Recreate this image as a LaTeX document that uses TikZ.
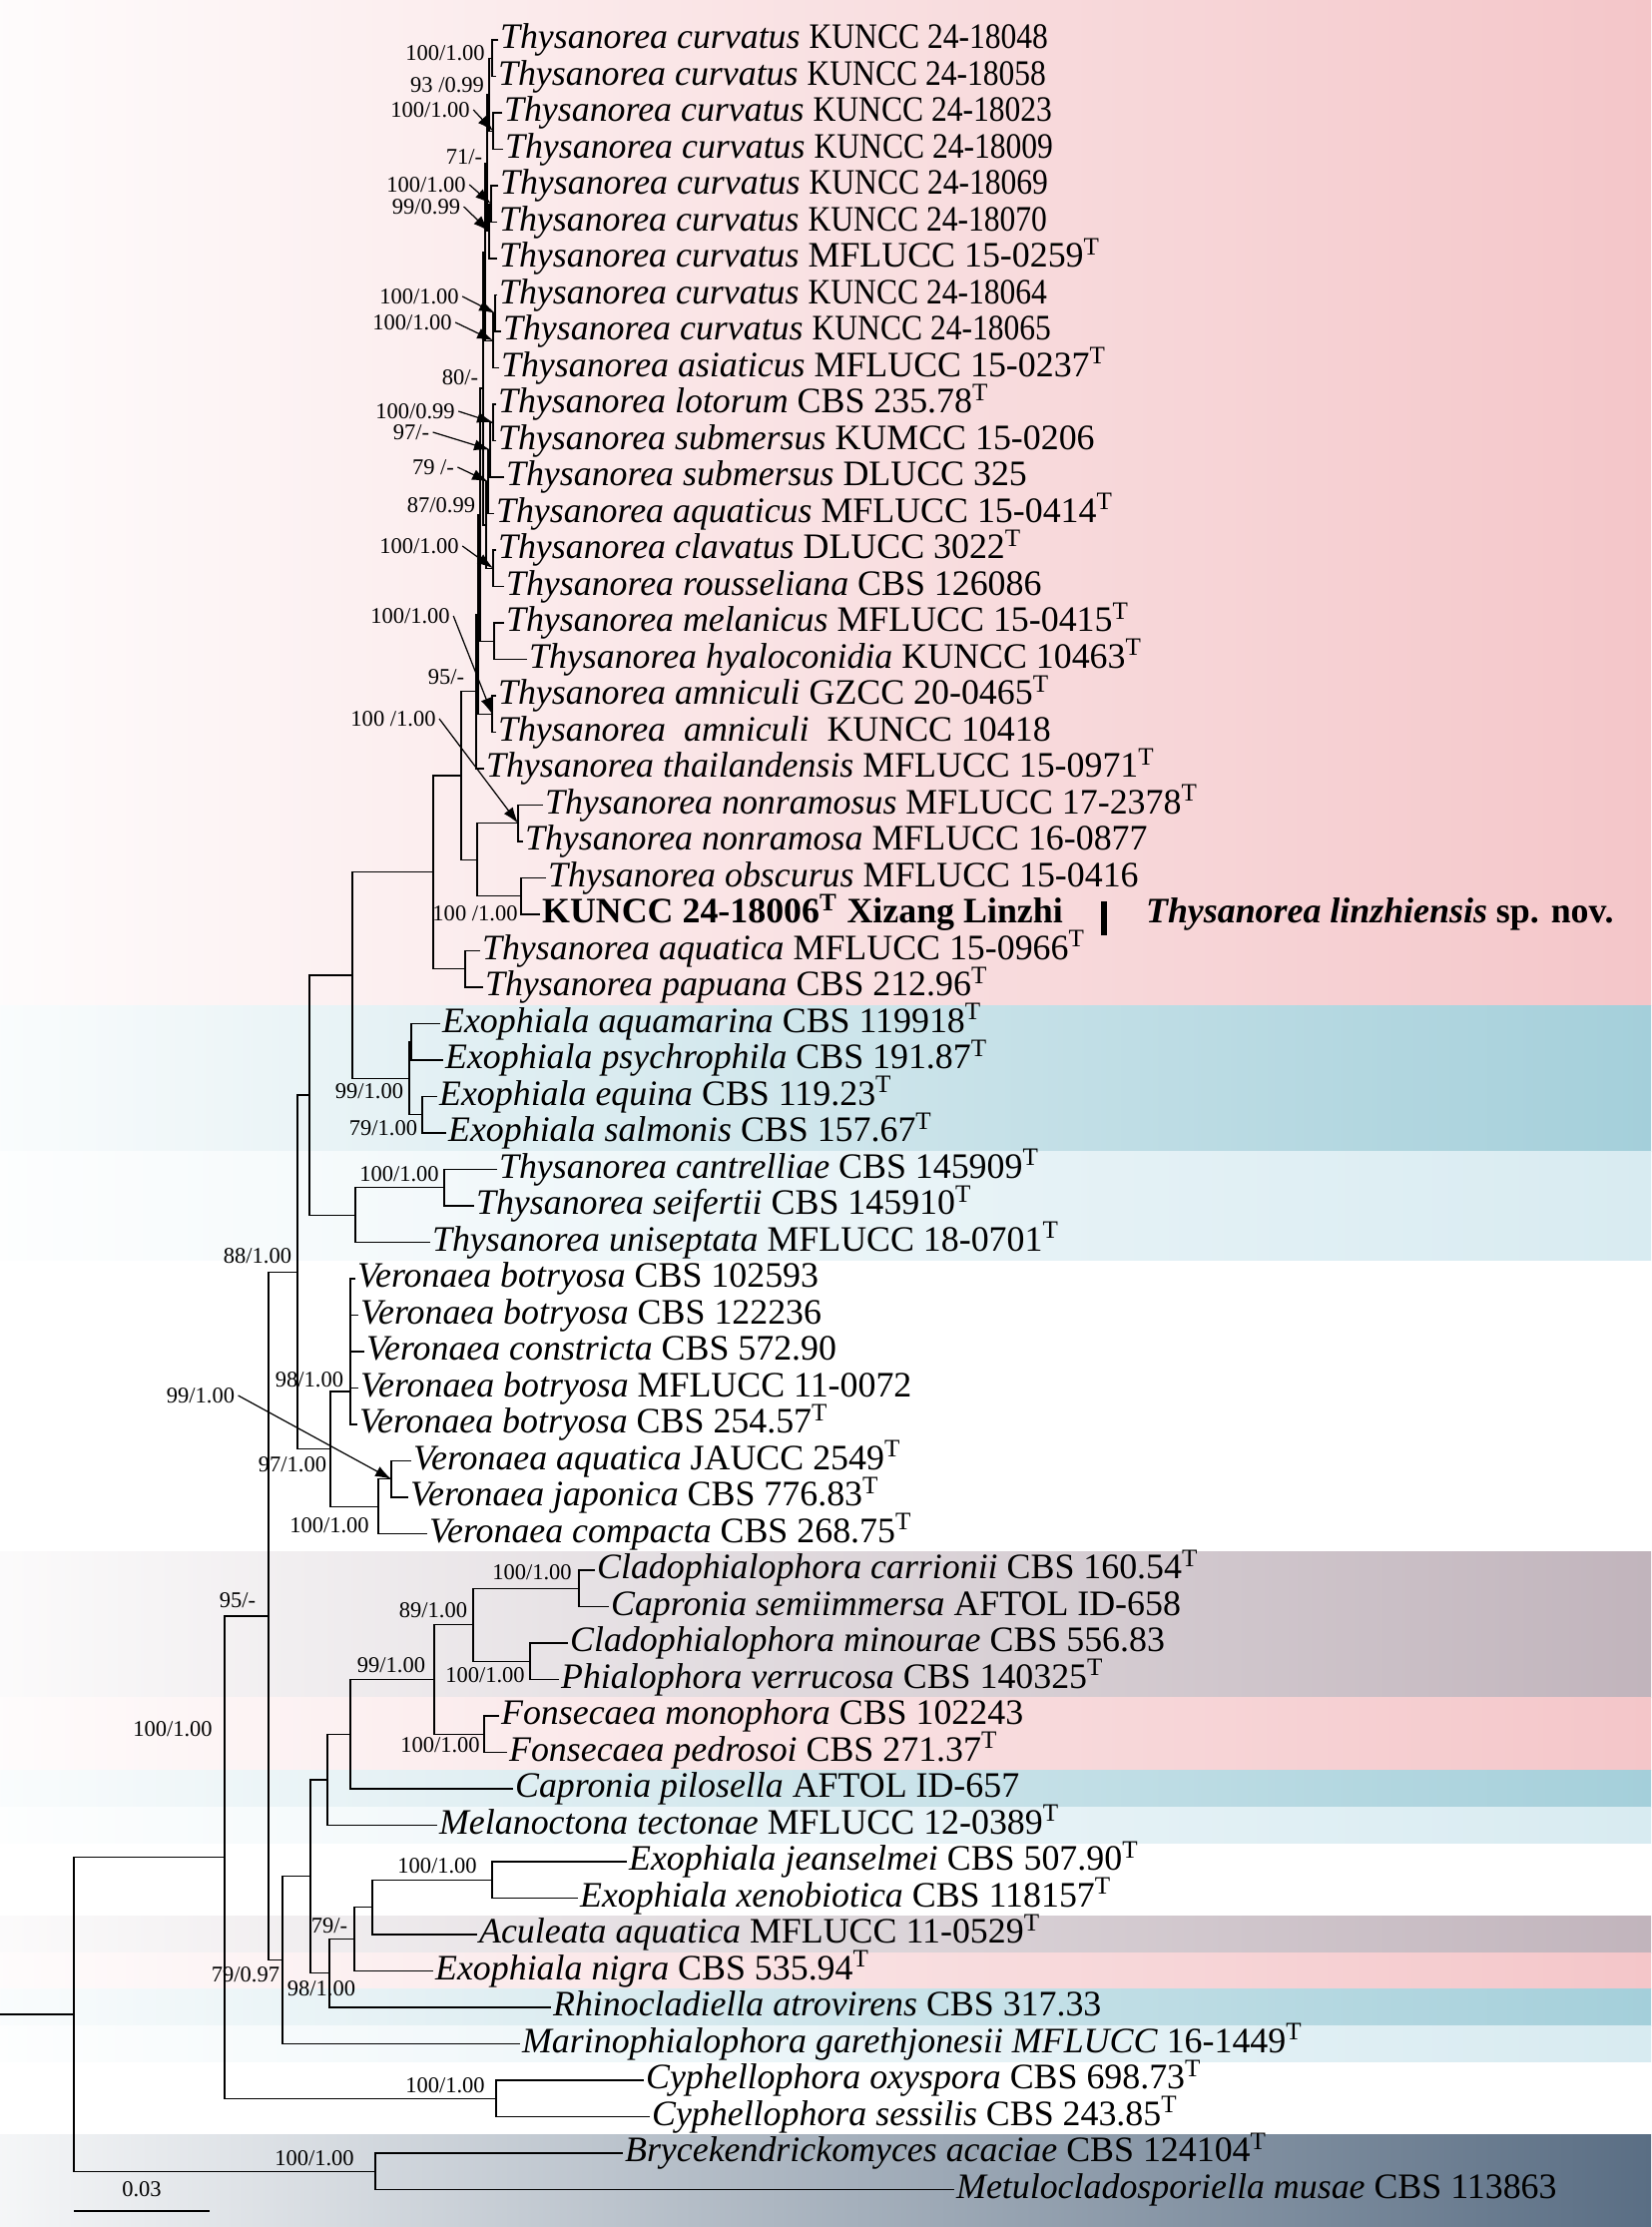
\documentclass[tikz,border=0pt]{standalone}
\usepackage{fontspec}
\setmainfont{Liberation Serif}
\usepackage{tikz}
\usetikzlibrary{arrows.meta}
\definecolor{bandpink}{HTML}{F4C6C9}
\definecolor{bandblue}{HTML}{A4CFDA}
\definecolor{bandlblue}{HTML}{D8EBF1}
\definecolor{bandmauve}{HTML}{C1B4BC}
\definecolor{bandslate}{HTML}{5A6E84}
\newcommand{\sn}[1]{\textit{#1}}
\newcommand{\typ}{\textsuperscript{T}}
\newcommand{\kun}[1]{\scalebox{0.88}[1]{KUNCC 24-#1}}

\begin{document}
\begin{tikzpicture}[x=0.01cm,y=-0.01cm,>={Latex[length=1.6mm,width=1.1mm]},
  br/.style={line width=0.35pt},
  arr/.style={->,line width=0.35pt},
  lf/.style={anchor=west,inner xsep=0.4pt,inner ysep=0pt,text height=7.2pt,text depth=2.2pt,font=\fontsize{10.2}{12}\selectfont},
  bs/.style={inner sep=0.8pt,font=\fontsize{6.4}{7}\selectfont},
  band/.style={left color=#1!6,right color=#1}]
\useasboundingbox (0,0) rectangle (1654,2231);
\shade[band=bandpink] (0,0) rectangle (1654,1007.25);
\shade[band=bandblue] (0,1007.25) rectangle (1654,1153.25);
\shade[band=bandlblue] (0,1153.25) rectangle (1654,1262.75);
\shade[band=bandmauve] (0,1554.75) rectangle (1654,1700.75);
\shade[band=bandpink] (0,1700.75) rectangle (1654,1773.75);
\shade[band=bandblue] (0,1773.75) rectangle (1654,1810.25);
\shade[band=bandlblue] (0,1810.25) rectangle (1654,1846.75);
\shade[band=bandmauve] (0,1919.75) rectangle (1654,1956.25);
\shade[band=bandpink] (0,1956.25) rectangle (1654,1992.75);
\shade[band=bandblue] (0,1992.75) rectangle (1654,2029.25);
\shade[band=bandlblue] (0,2029.25) rectangle (1654,2065.75);
\shade[band=bandslate] (0,2138.75) rectangle (1654,2231);

\node[lf] (l1) at (499,40) {\sn{Thysanorea curvatus} \kun{18048}};
\node[lf] (l2) at (497,76.5) {\sn{Thysanorea curvatus} \kun{18058}};
\node[lf] (l3) at (503,113) {\sn{Thysanorea curvatus} \kun{18023}};
\node[lf] (l4) at (504,149.5) {\sn{Thysanorea curvatus} \kun{18009}};
\node[lf] (l5) at (499,186) {\sn{Thysanorea curvatus} \kun{18069}};
\node[lf] (l6) at (498,222.5) {\sn{Thysanorea curvatus} \kun{18070}};
\node[lf] (l7) at (498,259) {\sn{Thysanorea curvatus} MFLUCC 15-0259\typ};
\node[lf] (l8) at (498,295.5) {\sn{Thysanorea curvatus} \kun{18064}};
\node[lf] (l9) at (502,332) {\sn{Thysanorea curvatus} \kun{18065}};
\node[lf] (l10) at (500,368.5) {\sn{Thysanorea asiaticus} MFLUCC 15-0237\typ};
\node[lf] (l11) at (497,405) {\sn{Thysanorea lotorum} CBS 235.78\typ};
\node[lf] (l12) at (497,441.5) {\sn{Thysanorea submersus} KUMCC 15-0206};
\node[lf] (l13) at (505,478) {\sn{Thysanorea submersus} DLUCC 325};
\node[lf] (l14) at (495,514.5) {\sn{Thysanorea aquaticus} MFLUCC 15-0414\typ};
\node[lf] (l15) at (497,551) {\sn{Thysanorea clavatus} DLUCC 3022\typ};
\node[lf] (l16) at (505,587.5) {\sn{Thysanorea rousseliana} CBS 126086};
\node[lf] (l17) at (505,624) {\sn{Thysanorea melanicus} MFLUCC 15-0415\typ};
\node[lf] (l18) at (528,660.5) {\sn{Thysanorea hyaloconidia} KUNCC 10463\typ};
\node[lf] (l19) at (497,697) {\sn{Thysanorea amniculi} GZCC 20-0465\typ};
\node[lf] (l20) at (497,733.5) {\sn{Thysanorea\ \ amniculi}\ \ KUNCC 10418};
\node[lf] (l21) at (485,770) {\sn{Thysanorea thailandensis} MFLUCC 15-0971\typ};
\node[lf] (l22) at (544,806.5) {\sn{Thysanorea nonramosus} MFLUCC 17-2378\typ};
\node[lf] (l23) at (524,843) {\sn{Thysanorea nonramosa} MFLUCC 16-0877};
\node[lf] (l24) at (547,879.5) {\sn{Thysanorea obscurus} MFLUCC 15-0416};
\node[lf] (l25) at (541,916) {\textbf{KUNCC 24-18006\typ{} Xizang Linzhi}};
\node[lf] (l26) at (481,952.5) {\sn{Thysanorea aquatica} MFLUCC 15-0966\typ};
\node[lf] (l27) at (484,989) {\sn{Thysanorea papuana} CBS 212.96\typ};
\node[lf] (l28) at (441,1025.5) {\sn{Exophiala aquamarina} CBS 119918\typ};
\node[lf] (l29) at (444,1062) {\sn{Exophiala psychrophila} CBS 191.87\typ};
\node[lf] (l30) at (438,1098.5) {\sn{Exophiala equina} CBS 119.23\typ};
\node[lf] (l31) at (447,1135) {\sn{Exophiala salmonis} CBS 157.67\typ};
\node[lf] (l32) at (498,1171.5) {\sn{Thysanorea cantrelliae} CBS 145909\typ};
\node[lf] (l33) at (475,1208) {\sn{Thysanorea seifertii} CBS 145910\typ};
\node[lf] (l34) at (431,1244.5) {\sn{Thysanorea uniseptata} MFLUCC 18-0701\typ};
\node[lf] (l35) at (356,1281) {\sn{Veronaea botryosa} CBS 102593};
\node[lf] (l36) at (359,1317.5) {\sn{Veronaea botryosa} CBS 122236};
\node[lf] (l37) at (365,1354) {\sn{Veronaea constricta} CBS 572.90};
\node[lf] (l38) at (359,1390.5) {\sn{Veronaea botryosa} MFLUCC 11-0072};
\node[lf] (l39) at (358,1427) {\sn{Veronaea botryosa} CBS 254.57\typ};
\node[lf] (l40) at (412,1463.5) {\sn{Veronaea aquatica} JAUCC 2549\typ};
\node[lf] (l41) at (409,1500) {\sn{Veronaea japonica} CBS 776.83\typ};
\node[lf] (l42) at (428,1536.5) {\sn{Veronaea compacta} CBS 268.75\typ};
\node[lf] (l43) at (596,1573) {\sn{Cladophialophora carrionii} CBS 160.54\typ};
\node[lf] (l44) at (610,1609.5) {\sn{Capronia semiimmersa} AFTOL ID-658};
\node[lf] (l45) at (569,1646) {\sn{Cladophialophora minourae} CBS 556.83};
\node[lf] (l46) at (560,1682.5) {\sn{Phialophora verrucosa} CBS 140325\typ};
\node[lf] (l47) at (500,1719) {\sn{Fonsecaea monophora} CBS 102243};
\node[lf] (l48) at (508,1755.5) {\sn{Fonsecaea pedrosoi} CBS 271.37\typ};
\node[lf] (l49) at (514,1792) {\sn{Capronia pilosella} AFTOL ID-657};
\node[lf] (l50) at (438,1828.5) {\sn{Melanoctona tectonae} MFLUCC 12-0389\typ};
\node[lf] (l51) at (628,1865) {\sn{Exophiala jeanselmei} CBS 507.90\typ};
\node[lf] (l52) at (579,1901.5) {\sn{Exophiala xenobiotica} CBS 118157\typ};
\node[lf] (l53) at (478,1938) {\sn{Aculeata aquatica} MFLUCC 11-0529\typ};
\node[lf] (l54) at (434,1974.5) {\sn{Exophiala nigra} CBS 535.94\typ};
\node[lf] (l55) at (552,2011) {\sn{Rhinocladiella atrovirens} CBS 317.33};
\node[lf] (l56) at (521,2047.5) {\sn{Marinophialophora garethjonesii MFLUCC} 16-1449\typ};
\node[lf] (l57) at (645,2084) {\sn{Cyphellophora oxyspora} CBS 698.73\typ};
\node[lf] (l58) at (651,2120.5) {\sn{Cyphellophora sessilis} CBS 243.85\typ};
\node[lf] (l59) at (624,2157) {\sn{Brycekendrickomyces acaciae} CBS 124104\typ};
\node[lf] (l60) at (956,2193.5) {\sn{Metulocladosporiella musae} CBS 113863};

\node[lf] (spn) at (1146,916) {\textbf{\textit{Thysanorea linzhiensis} sp. nov.}};
\draw[line width=1.7pt] (1106,903) -- (1106,937);

\coordinate (nA) at (493,58.25);
\coordinate (nC) at (494,131.25);
\coordinate (nB) at (490,94.75);
\coordinate (nE) at (492,204.25);
\coordinate (nF) at (490,231.63);
\coordinate (nD) at (488,163.19);
\coordinate (nG) at (496,313.75);
\coordinate (nH) at (494,341.13);
\coordinate (nI) at (486,252.16);
\coordinate (nJ) at (494,423.25);
\coordinate (nK) at (491,450.63);
\coordinate (nL) at (489,482.56);
\coordinate (nM) at (494,569.25);
\coordinate (nX) at (487,525.9);
\coordinate (n80) at (484,389.03);
\coordinate (nMe) at (495,642.25);
\coordinate (n87) at (481,515.64);
\coordinate (nN) at (493,715.25);
\coordinate (nU) at (479,615.45);
\coordinate (n95) at (477,692.72);
\coordinate (nNon) at (519,824.75);
\coordinate (nObs) at (522,897.75);
\coordinate (nNo) at (478,861.25);
\coordinate (nT) at (462,776.99);
\coordinate (nAq) at (466,970.75);
\coordinate (nTh) at (434,873.87);
\coordinate (nEaq) at (412,1043.75);
\coordinate (nEeq) at (423,1116.75);
\coordinate (nEx) at (410,1080.25);
\coordinate (nTE) at (353,977.06);
\coordinate (nCan) at (445,1189.75);
\coordinate (nUni) at (356,1217.13);
\coordinate (nTU) at (310,1097.09);
\coordinate (nVb) at (351,1394);
\coordinate (nVaj) at (392,1481.75);
\coordinate (nVc) at (379,1509.13);
\coordinate (nV) at (331,1451.56);
\coordinate (n88) at (298,1274.33);
\coordinate (nCar) at (580,1591.25);
\coordinate (nMin) at (531,1664.25);
\coordinate (n89) at (474,1627.75);
\coordinate (nFon) at (485,1737.25);
\coordinate (n99) at (435,1682.5);
\coordinate (nPil) at (351,1737.25);
\coordinate (nMel) at (328,1782.88);
\coordinate (nJx) at (493,1883.25);
\coordinate (nAcu) at (373,1910.63);
\coordinate (nNig) at (355,1942.56);
\coordinate (nRh) at (330,1976.78);
\coordinate (nCh) at (311,1879.83);
\coordinate (nMa) at (283,1963.66);
\coordinate (n95b) at (269,1619);
\coordinate (nCy) at (497,2102.25);
\coordinate (nIn) at (225,1860.6);
\coordinate (nOut) at (376,2175.25);
\coordinate (nRoot) at (74,2017.9);
\coordinate (r0) at (0,2017.9);

\draw[br] (l1.west) -| (nA) |- (l2.west);
\draw[br] (l3.west) -| (nC) |- (l4.west);
\draw[br] (nA) -| (nB) |- (nC);
\draw[br] (l5.west) -| (nE) |- (l6.west);
\draw[br] (nE) -| (nF) |- (l7.west);
\draw[br] (nB) -| (nD) |- (nF);
\draw[br] (l8.west) -| (nG) |- (l9.west);
\draw[br] (nG) -| (nH) |- (l10.west);
\draw[br] (nD) -| (nI) |- (nH);
\draw[br] (l11.west) -| (nJ) |- (l12.west);
\draw[br] (nJ) -| (nK) |- (l13.west);
\draw[br] (nK) -| (nL) |- (l14.west);
\draw[br] (l15.west) -| (nM) |- (l16.west);
\draw[br] (nL) -| (nX) |- (nM);
\draw[br] (nI) -| (n80) |- (nX);
\draw[br] (l17.west) -| (nMe) |- (l18.west);
\draw[br] (n80) -| (n87) |- (nMe);
\draw[br] (l19.west) -| (nN) |- (l20.west);
\draw[br] (n87) -| (nU) |- (nN);
\draw[br] (nU) -| (n95) |- (l21.west);
\draw[br] (l22.west) -| (nNon) |- (l23.west);
\draw[br] (l24.west) -| (nObs) |- (l25.west);
\draw[br] (nNon) -| (nNo) |- (nObs);
\draw[br] (n95) -| (nT) |- (nNo);
\draw[br] (l26.west) -| (nAq) |- (l27.west);
\draw[br] (nT) -| (nTh) |- (nAq);
\draw[br] (l28.west) -| (nEaq) |- (l29.west);
\draw[br] (l30.west) -| (nEeq) |- (l31.west);
\draw[br] (nEaq) -| (nEx) |- (nEeq);
\draw[br] (nTh) -| (nTE) |- (nEx);
\draw[br] (l32.west) -| (nCan) |- (l33.west);
\draw[br] (nCan) -| (nUni) |- (l34.west);
\draw[br] (nTE) -| (nTU) |- (nUni);
\draw[br] (l35.west) -| (nVb) |- (l39.west);
\draw[br] (nVb |- l36.west) -- (l36.west);
\draw[br] (nVb |- l37.west) -- (l37.west);
\draw[br] (nVb |- l38.west) -- (l38.west);
\draw[br] (l40.west) -| (nVaj) |- (l41.west);
\draw[br] (nVaj) -| (nVc) |- (l42.west);
\draw[br] (nVb) -| (nV) |- (nVc);
\draw[br] (nTU) -| (n88) |- (nV);
\draw[br] (l43.west) -| (nCar) |- (l44.west);
\draw[br] (l45.west) -| (nMin) |- (l46.west);
\draw[br] (nCar) -| (n89) |- (nMin);
\draw[br] (l47.west) -| (nFon) |- (l48.west);
\draw[br] (n89) -| (n99) |- (nFon);
\draw[br] (n99) -| (nPil) |- (l49.west);
\draw[br] (nPil) -| (nMel) |- (l50.west);
\draw[br] (l51.west) -| (nJx) |- (l52.west);
\draw[br] (nJx) -| (nAcu) |- (l53.west);
\draw[br] (nAcu) -| (nNig) |- (l54.west);
\draw[br] (nNig) -| (nRh) |- (l55.west);
\draw[br] (nMel) -| (nCh) |- (nRh);
\draw[br] (nCh) -| (nMa) |- (l56.west);
\draw[br] (n88) -| (n95b) |- (nMa);
\draw[br] (l57.west) -| (nCy) |- (l58.west);
\draw[br] (n95b) -| (nIn) |- (nCy);
\draw[br] (l59.west) -| (nOut) |- (l60.west);
\draw[br] (nIn) -| (nRoot) |- (nOut);
\draw[br] (r0) -- (nRoot |- r0);

\node[bs] (bsA) at (446,53) {100/1.00};
\node[bs] (bsB) at (448,85) {93 /0.99};
\node[bs] (bsC) at (431,110) {100/1.00};
\node[bs] (bsD) at (465,157) {71/-};
\node[bs] (bsE) at (427,185) {100/1.00};
\node[bs] (bsF) at (427,207) {99/0.99};
\node[bs] (bsG) at (420,297) {100/1.00};
\node[bs] (bsH) at (413,323) {100/1.00};
\node[bs] (bs80) at (461,378) {80/-};
\node[bs] (bsJ) at (416,412) {100/0.99};
\node[bs] (bsK) at (412,433) {97/-};
\node[bs] (bsL) at (434,468) {79 /-};
\node[bs] (bs87) at (442,506) {87/0.99};
\node[bs] (bsM) at (420,547) {100/1.00};
\node[bs] (bsN) at (411,617) {100/1.00};
\node[bs] (bs95) at (447,678) {95/-};
\node[bs] (bsNon) at (394,720) {100 /1.00};
\node[bs] (bsObs) at (476,915) {100 /1.00};
\node[bs] (bsEx) at (370,1093) {99/1.00};
\node[bs] (bsEeq) at (384,1130) {79/1.00};
\node[bs] (bsCan) at (400,1176) {100/1.00};
\node[bs] (bs88) at (258,1258) {88/1.00};
\node[bs] (bsVb) at (310,1382) {98/1.00};
\node[bs] (bsVaj) at (201,1398) {99/1.00};
\node[bs] (bsV) at (293,1467) {97/1.00};
\node[bs] (bsVc) at (330,1528) {100/1.00};
\node[bs] (bsCar) at (533,1575) {100/1.00};
\node[bs] (bs89) at (434,1613) {89/1.00};
\node[bs] (bs95b) at (238,1603) {95/-};
\node[bs] (bsMin) at (486,1678) {100/1.00};
\node[bs] (bs99) at (392,1668) {99/1.00};
\node[bs] (bsFon) at (441,1748) {100/1.00};
\node[bs] (bsIn) at (173,1732) {100/1.00};
\node[bs] (bsJx) at (438,1869) {100/1.00};
\node[bs] (bs79) at (330,1929) {79/-};
\node[bs] (bsRh) at (322,1992) {98/1.00};
\node[bs] (bsMa) at (246,1978) {79/0.97};
\node[bs] (bsCy) at (446,2089) {100/1.00};
\node[bs] (bsOut) at (315,2162) {100/1.00};

\draw[arr] (bsC.east) -- (nC);
\draw[arr] (bsE.east) -- (nE);
\draw[arr] (bsF.east) -- (nF);
\draw[arr] (bsG.east) -- (nG);
\draw[arr] (bsH.east) -- (nH);
\draw[arr] (bsJ.east) -- (nJ);
\draw[arr] (bsK.east) -- (nK);
\draw[arr] (bsL.east) -- (nL);
\draw[arr] (bsM.east) -- (nM);
\draw[arr] (bsN.east) -- (nN);
\draw[arr] (bsNon.east) -- (nNon);
\draw[arr] (bsVaj.east) -- (nVaj);

\coordinate (sb1) at (74,2215);
\coordinate (sb2) at (210,2215);
\draw[br] (sb1) -- (sb2) node[bs,midway,above=3pt] (sbl) {0.03};
\end{tikzpicture}
\end{document}
